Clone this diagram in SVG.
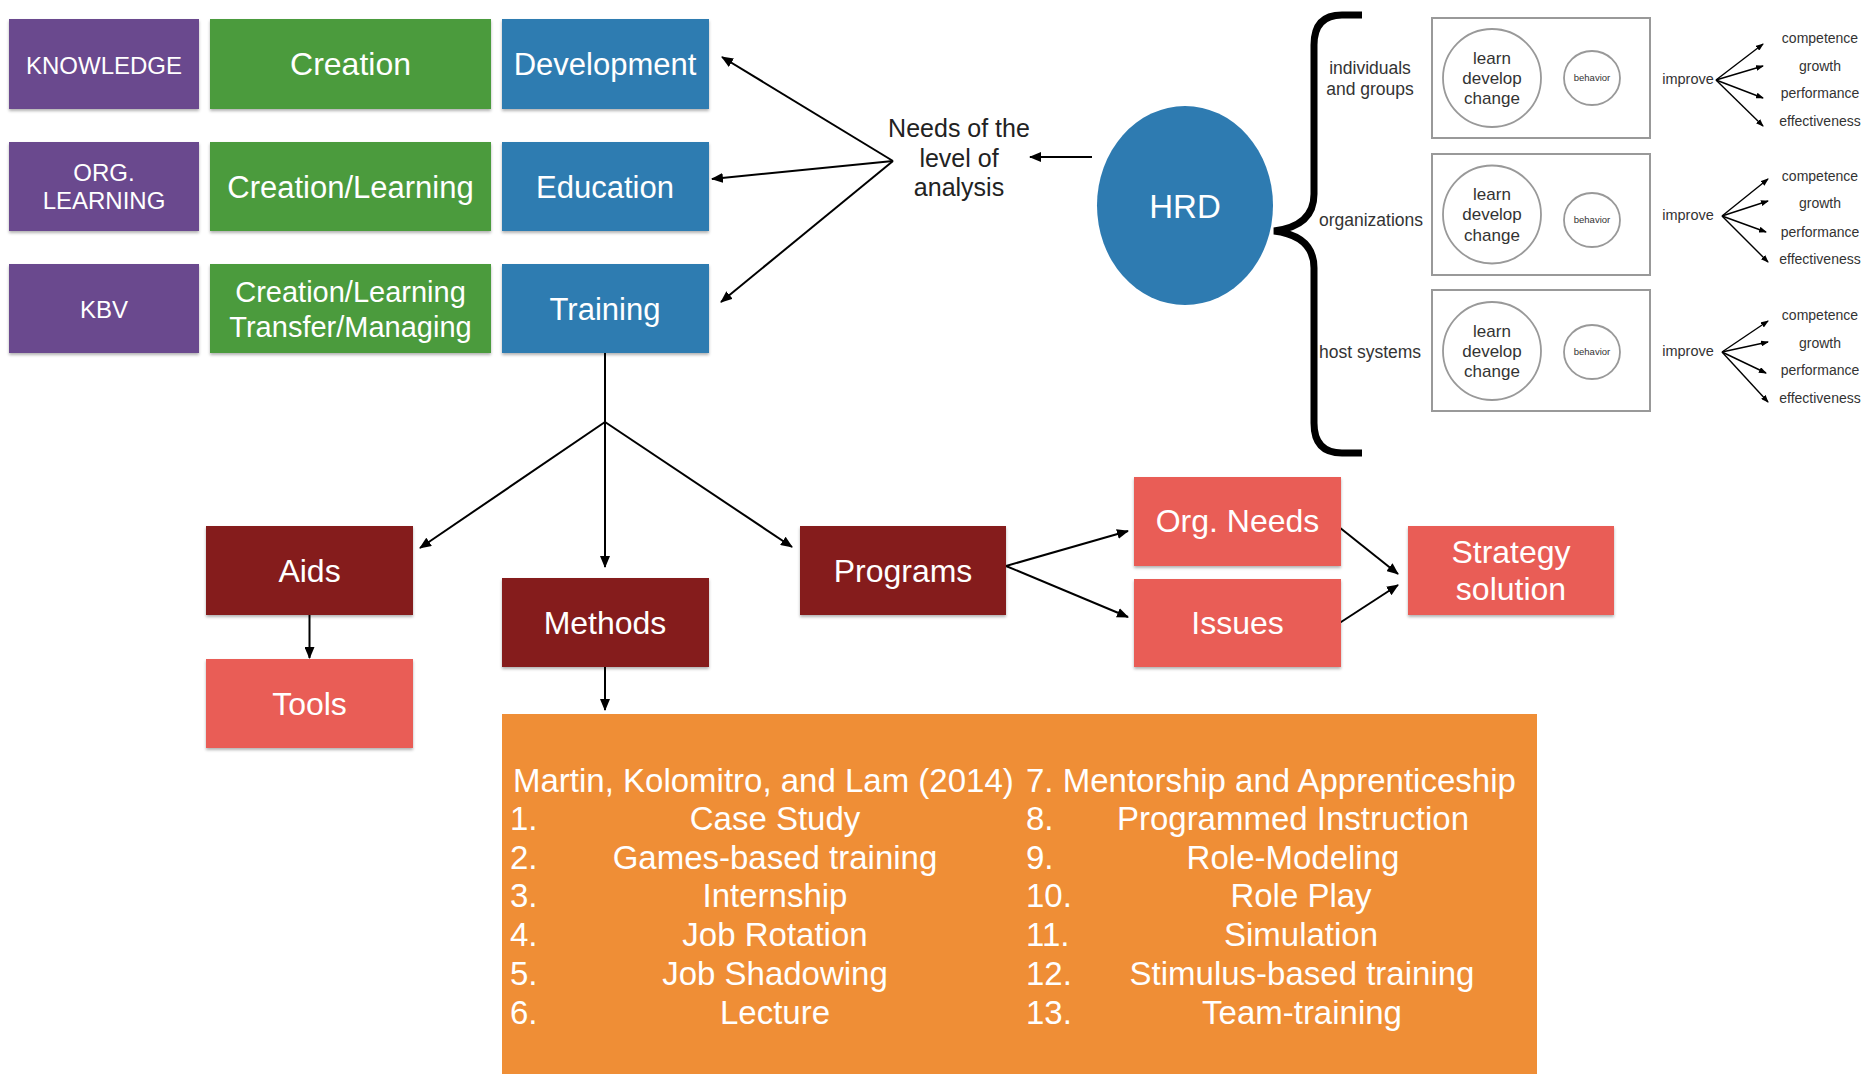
<svg xmlns="http://www.w3.org/2000/svg" width="1865" height="1074" viewBox="0 0 1865 1074">
<style>
  .t { font-family: "Liberation Sans", Arial, sans-serif; fill: #fff; text-anchor: middle; }
  .dk { font-family: "Liberation Sans", Arial, sans-serif; fill: #222; text-anchor: middle; }
  .gr { font-family: "Liberation Sans", Arial, sans-serif; fill: #333; text-anchor: middle; }
  .lt { font-family: "Liberation Sans", Arial, sans-serif; fill: #fff; }
  .purple { fill: #6b4a8e; }
  .green { fill: #4b9b3d; }
  .blue { fill: #2e7bb1; }
  .dred { fill: #851f1b; }
  .salmon { fill: #e95d57; }
  .orange { fill: #ef8e36; }
  .ln { stroke: #000; stroke-width: 2; fill: none; marker-end: url(#ah); }
  .sl { stroke: #000; stroke-width: 1.4; fill: none; marker-end: url(#ahs); }
  .frame { fill: #fff; stroke: #999; stroke-width: 2; }
  .circ { fill: none; stroke: #999; stroke-width: 1.8; }
</style>
<defs>
  <filter id="sh" x="-5%" y="-5%" width="110%" height="120%">
    <feDropShadow dx="0" dy="2" stdDeviation="1.5" flood-color="#000" flood-opacity="0.3"/>
  </filter>
  <marker id="ah" markerWidth="12" markerHeight="10" refX="11" refY="5" orient="auto" markerUnits="userSpaceOnUse">
    <path d="M0,0 L12,5 L0,10 z" fill="#000"/>
  </marker>
  <marker id="ahs" markerWidth="8" markerHeight="6" refX="7" refY="3" orient="auto" markerUnits="userSpaceOnUse">
    <path d="M0,0 L8,3 L0,6 z" fill="#000"/>
  </marker>
</defs>

<g id="connectors">
  <line class="ln" x1="893" y1="161" x2="722" y2="57"/>
  <line class="ln" x1="893" y1="161" x2="712" y2="179"/>
  <line class="ln" x1="893" y1="161" x2="721" y2="302"/>
  <line class="ln" x1="1092" y1="157" x2="1030" y2="157"/>
  <line stroke="#000" stroke-width="2" x1="605" y1="353" x2="605" y2="422"/>
  <line class="ln" x1="605" y1="422" x2="420" y2="548"/>
  <line class="ln" x1="605" y1="422" x2="605" y2="567"/>
  <line class="ln" x1="605" y1="422" x2="792" y2="547"/>
  <line class="ln" x1="309.5" y1="615" x2="309.5" y2="658"/>
  <line class="ln" x1="605" y1="667" x2="605" y2="710"/>
  <line class="ln" x1="1006" y1="566" x2="1128" y2="531"/>
  <line class="ln" x1="1006" y1="566" x2="1128" y2="617"/>
  <line class="ln" x1="1339" y1="527" x2="1398" y2="574"/>
  <line class="ln" x1="1338" y1="624" x2="1398" y2="585"/>
  <path d="M1362,15 L1342,15 Q1314,15 1314,45 L1314,194 Q1314,226 1274,231 Q1314,236 1314,268 L1314,423 Q1314,453 1342,453 L1362,453" stroke="#000" stroke-width="7" fill="none"/>
  <line class="sl" x1="1716" y1="80" x2="1763" y2="44"/>
  <line class="sl" x1="1716" y1="80" x2="1763" y2="66"/>
  <line class="sl" x1="1716" y1="80" x2="1763" y2="98"/>
  <line class="sl" x1="1716" y1="80" x2="1763" y2="126"/>
  <line class="sl" x1="1722" y1="216" x2="1768" y2="179"/>
  <line class="sl" x1="1722" y1="216" x2="1768" y2="201"/>
  <line class="sl" x1="1722" y1="216" x2="1766" y2="232"/>
  <line class="sl" x1="1722" y1="216" x2="1768" y2="262"/>
  <line class="sl" x1="1722" y1="352" x2="1768" y2="321"/>
  <line class="sl" x1="1722" y1="352" x2="1768" y2="342"/>
  <line class="sl" x1="1722" y1="352" x2="1766" y2="373"/>
  <line class="sl" x1="1722" y1="352" x2="1768" y2="402"/>
</g>

<g id="knowledge"><rect class="purple" filter="url(#sh)" x="9" y="19" width="190" height="90"/><text class="t" x="104" y="74" font-size="24">KNOWLEDGE</text></g>
<g id="creation"><rect class="green" filter="url(#sh)" x="210" y="19" width="281" height="90"/><text class="t" x="350.5" y="75" font-size="32">Creation</text></g>
<g id="development"><rect class="blue" filter="url(#sh)" x="502" y="19" width="207" height="90"/><text class="t" x="605" y="75" font-size="31">Development</text></g>

<g id="org-learning"><rect class="purple" filter="url(#sh)" x="9" y="142" width="190" height="89"/><text class="t" x="104" y="181" font-size="24">ORG.</text><text class="t" x="104" y="209" font-size="24">LEARNING</text></g>
<g id="creation-learning"><rect class="green" filter="url(#sh)" x="210" y="142" width="281" height="89"/><text class="t" x="350.5" y="198" font-size="31">Creation/Learning</text></g>
<g id="education"><rect class="blue" filter="url(#sh)" x="502" y="142" width="207" height="89"/><text class="t" x="605" y="198" font-size="31">Education</text></g>

<g id="kbv"><rect class="purple" filter="url(#sh)" x="9" y="264" width="190" height="89"/><text class="t" x="104" y="318" font-size="24">KBV</text></g>
<g id="creation-transfer"><rect class="green" filter="url(#sh)" x="210" y="264" width="281" height="89"/><text class="t" x="350.5" y="302" font-size="29">Creation/Learning</text><text class="t" x="350.5" y="337" font-size="29">Transfer/Managing</text></g>
<g id="training"><rect class="blue" filter="url(#sh)" x="502" y="264" width="207" height="89"/><text class="t" x="605" y="320" font-size="31">Training</text></g>

<g id="needs"><text class="dk" x="959" y="137" font-size="25">Needs of the</text><text class="dk" x="959" y="167" font-size="25">level of</text><text class="dk" x="959" y="196" font-size="25">analysis</text></g>

<g id="hrd"><ellipse cx="1185" cy="205.5" rx="88" ry="99.5" fill="#2e7bb1"/><text class="t" x="1185" y="218" font-size="33">HRD</text></g>

<g id="level-labels">
  <text class="gr" x="1370" y="74" font-size="17.5">individuals</text>
  <text class="gr" x="1370" y="95" font-size="17.5">and groups</text>
  <text class="gr" x="1371" y="226" font-size="17.5">organizations</text>
  <text class="gr" x="1370" y="358" font-size="17.5">host systems</text>
</g>

<g id="box-individuals">
  <rect class="frame" x="1432" y="18" width="218" height="120"/>
  <circle class="circ" cx="1492" cy="78" r="49"/>
  <text class="gr" x="1492" y="64" font-size="17">learn</text>
  <text class="gr" x="1492" y="84" font-size="17">develop</text>
  <text class="gr" x="1492" y="104" font-size="17">change</text>
  <ellipse class="circ" cx="1592" cy="78" rx="28" ry="27"/>
  <text class="gr" x="1592" y="81" font-size="9.5" fill="#666">behavior</text>
  <text class="gr" x="1688" y="84" font-size="14.5">improve</text>
  <text class="gr" x="1820" y="43" font-size="14">competence</text>
  <text class="gr" x="1820" y="71" font-size="14">growth</text>
  <text class="gr" x="1820" y="98" font-size="14">performance</text>
  <text class="gr" x="1820" y="126" font-size="14">effectiveness</text>
</g>
<g id="box-organizations">
  <rect class="frame" x="1432" y="154" width="218" height="121"/>
  <circle class="circ" cx="1492" cy="214.5" r="49"/>
  <text class="gr" x="1492" y="200" font-size="17">learn</text>
  <text class="gr" x="1492" y="220" font-size="17">develop</text>
  <text class="gr" x="1492" y="241" font-size="17">change</text>
  <ellipse class="circ" cx="1592" cy="220" rx="28" ry="27"/>
  <text class="gr" x="1592" y="223" font-size="9.5">behavior</text>
  <text class="gr" x="1688" y="220" font-size="14.5">improve</text>
  <text class="gr" x="1820" y="181" font-size="14">competence</text>
  <text class="gr" x="1820" y="208" font-size="14">growth</text>
  <text class="gr" x="1820" y="237" font-size="14">performance</text>
  <text class="gr" x="1820" y="264" font-size="14">effectiveness</text>
</g>
<g id="box-host-systems">
  <rect class="frame" x="1432" y="290" width="218" height="121"/>
  <circle class="circ" cx="1492" cy="351" r="49"/>
  <text class="gr" x="1492" y="337" font-size="17">learn</text>
  <text class="gr" x="1492" y="357" font-size="17">develop</text>
  <text class="gr" x="1492" y="377" font-size="17">change</text>
  <ellipse class="circ" cx="1592" cy="352" rx="28" ry="27"/>
  <text class="gr" x="1592" y="355" font-size="9.5">behavior</text>
  <text class="gr" x="1688" y="356" font-size="14.5">improve</text>
  <text class="gr" x="1820" y="320" font-size="14">competence</text>
  <text class="gr" x="1820" y="348" font-size="14">growth</text>
  <text class="gr" x="1820" y="375" font-size="14">performance</text>
  <text class="gr" x="1820" y="403" font-size="14">effectiveness</text>
</g>

<g id="aids"><rect class="dred" filter="url(#sh)" x="206" y="526" width="207" height="89"/><text class="t" x="309.5" y="582" font-size="32">Aids</text></g>
<g id="tools"><rect class="salmon" filter="url(#sh)" x="206" y="659" width="207" height="89"/><text class="t" x="309.5" y="715" font-size="32">Tools</text></g>
<g id="methods"><rect class="dred" filter="url(#sh)" x="502" y="578" width="207" height="89"/><text class="t" x="605" y="634" font-size="32">Methods</text></g>
<g id="programs"><rect class="dred" filter="url(#sh)" x="800" y="526" width="206" height="89"/><text class="t" x="903" y="582" font-size="32">Programs</text></g>
<g id="org-needs"><rect class="salmon" filter="url(#sh)" x="1134" y="477" width="207" height="89"/><text class="t" x="1237.5" y="532" font-size="32">Org. Needs</text></g>
<g id="issues"><rect class="salmon" filter="url(#sh)" x="1134" y="579" width="207" height="88"/><text class="t" x="1237.5" y="634" font-size="32">Issues</text></g>
<g id="strategy"><rect class="salmon" filter="url(#sh)" x="1408" y="526" width="206" height="89"/><text class="t" x="1511" y="563" font-size="32">Strategy</text><text class="t" x="1511" y="600" font-size="32">solution</text></g>

<g id="methods-list">
  <rect class="orange" x="502" y="714" width="1035" height="360"/>
  <text class="lt" x="513" y="792" font-size="33">Martin, Kolomitro, and Lam (2014)</text>
  <text class="lt" x="1026" y="792" font-size="33">7. Mentorship and Apprenticeship</text>
  <text class="lt" x="510" y="830" font-size="33">1.</text>
  <text class="lt" x="510" y="869" font-size="33">2.</text>
  <text class="lt" x="510" y="907" font-size="33">3.</text>
  <text class="lt" x="510" y="946" font-size="33">4.</text>
  <text class="lt" x="510" y="985" font-size="33">5.</text>
  <text class="lt" x="510" y="1024" font-size="33">6.</text>
  <text class="t" x="775" y="830" font-size="33">Case Study</text>
  <text class="t" x="775" y="869" font-size="33">Games-based training</text>
  <text class="t" x="775" y="907" font-size="33">Internship</text>
  <text class="t" x="775" y="946" font-size="33">Job Rotation</text>
  <text class="t" x="775" y="985" font-size="33">Job Shadowing</text>
  <text class="t" x="775" y="1024" font-size="33">Lecture</text>
  <text class="lt" x="1026" y="830" font-size="33">8.</text>
  <text class="lt" x="1026" y="869" font-size="33">9.</text>
  <text class="lt" x="1026" y="907" font-size="33">10.</text>
  <text class="lt" x="1026" y="946" font-size="33">11.</text>
  <text class="lt" x="1026" y="985" font-size="33">12.</text>
  <text class="lt" x="1026" y="1024" font-size="33">13.</text>
  <text class="t" x="1293" y="830" font-size="33">Programmed Instruction</text>
  <text class="t" x="1293" y="869" font-size="33">Role-Modeling</text>
  <text class="t" x="1301" y="907" font-size="33">Role Play</text>
  <text class="t" x="1301" y="946" font-size="33">Simulation</text>
  <text class="t" x="1302" y="985" font-size="33">Stimulus-based training</text>
  <text class="t" x="1302" y="1024" font-size="33">Team-training</text>
</g>
</svg>
